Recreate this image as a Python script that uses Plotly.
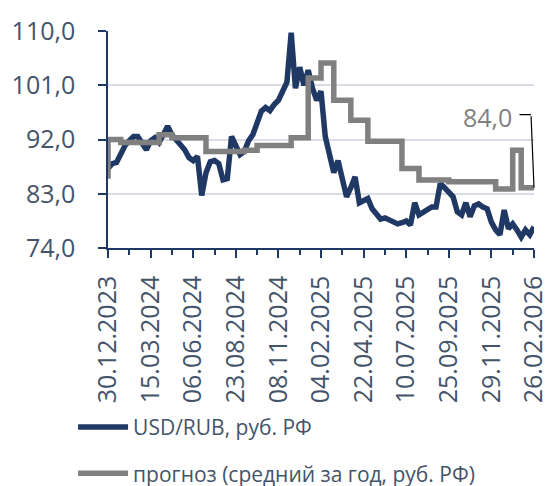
import plotly.graph_objects as go

tick_labels = ["30.12.2023", "15.03.2024", "06.06.2024", "23.08.2024", "08.11.2024",
               "04.02.2025", "22.04.2025", "10.07.2025", "25.09.2025", "29.11.2025",
               "26.02.2026"]

usd_rub = [
    87.2, 88.0, 88.2, 89.5, 91.0, 91.8, 92.5, 92.5, 91.5, 90.3,
    91.8, 92.3, 91.5, 93.0, 94.2, 92.8, 92.0, 91.3, 90.3, 89.0,
    88.5, 89.2, 82.7, 86.5, 88.3, 88.5, 88.0, 85.3, 85.5, 92.5,
    91.2, 89.5, 90.0, 91.8, 92.8, 95.0, 96.7, 97.3, 96.8, 97.8,
    98.5, 100.0, 101.5, 109.7, 100.5, 104.0, 101.0, 103.5, 100.5, 98.5,
    100.0, 92.5, 89.5, 86.5, 88.5, 85.0, 82.5, 84.0, 85.8, 81.5,
    81.8, 82.2, 80.5, 79.8, 78.8, 79.0, 78.6, 78.3, 78.0, 78.2,
    78.5, 77.8, 81.5, 79.5, 80.0, 80.5, 80.8, 80.8, 84.7, 84.0,
    83.2, 82.5, 80.0, 79.5, 81.5, 79.2, 81.0, 81.3, 80.8, 80.5,
    78.3, 77.0, 76.2, 80.3, 77.2, 78.0, 77.0, 75.8, 77.0, 76.2,
    77.5,
]

forecast = [
    85.5, 92.0, 92.0, 92.0, 91.5, 91.5, 91.5, 91.5, 91.5, 91.5,
    91.5, 91.5, 91.5, 92.8, 92.8, 92.8, 92.3, 92.3, 92.3, 92.3,
    92.3, 92.3, 92.3, 92.3, 90.0, 90.0, 90.0, 90.0, 90.0, 90.0,
    90.0, 90.0, 90.0, 90.2, 90.2, 90.2, 91.0, 91.0, 91.0, 91.0,
    91.0, 91.0, 91.0, 91.0, 92.3, 92.3, 92.3, 92.3, 102.2, 102.2,
    102.2, 104.7, 104.7, 104.7, 98.5, 98.5, 98.5, 98.5, 95.2, 95.2,
    95.2, 95.2, 91.7, 91.7, 91.7, 91.7, 91.7, 91.7, 91.7, 91.7,
    87.2, 87.2, 87.2, 87.2, 85.3, 85.3, 85.3, 85.3, 85.3, 85.3,
    85.3, 85.0, 85.0, 85.0, 85.0, 85.0, 85.0, 85.0, 85.0, 85.0,
    85.0, 85.0, 83.8, 83.8, 83.8, 83.8, 90.2, 90.2, 84.0, 84.0,
    84.0,
]

series_names = ["USD/RUB, руб. РФ", "прогноз (средний за год, руб. РФ)"]

TEXT = "#44546A"
NAVY = "#1F3864"
GREY = "#808080"
FONT = "Open Sans"

x_idx = list(range(len(usd_rub)))
major = list(range(0, len(usd_rub), 10))

fig = go.Figure()
fig.add_trace(go.Scatter(x=x_idx, y=usd_rub, mode="lines", name=series_names[0],
                         line=dict(color=NAVY, width=5.5), legend="legend"))
fig.add_trace(go.Scatter(x=x_idx, y=forecast, mode="lines", name=series_names[1],
                         line=dict(color=GREY, width=5.5, shape="vh"), legend="legend2"))

last_x = x_idx[-1]
last_y = forecast[-1]
label = f"{last_y:.1f}".replace(".", ",")
# leader line (two segments) and label
fig.add_annotation(x=last_x, y=last_y, xref="x", yref="y", text="", showarrow=True,
                   arrowhead=0, arrowwidth=1.2, arrowcolor="black", ax=-3, ay=-73)
fig.add_annotation(x=last_x, y=last_y, xref="x", yref="y", text="", showarrow=True,
                   arrowhead=0, arrowwidth=1.2, arrowcolor="black", ax=-13, ay=0,
                   xshift=-3, yshift=73)
fig.add_annotation(x=last_x, y=last_y, xref="x", yref="y", text=label, showarrow=False,
                   xshift=-47, yshift=71, font=dict(family=FONT, size=25, color=GREY))

legend_font = dict(family=FONT, size=21, color=TEXT)
fig.update_layout(
    width=552, height=486,
    margin=dict(l=100, r=26, t=23, b=246, autoexpand=False),
    paper_bgcolor="white", plot_bgcolor="white",
    separators=", ",
    font=dict(family=FONT, color=TEXT, size=22),
    legend=dict(x=-0.082, y=-0.826, xanchor="left", yanchor="middle", itemwidth=50,
                font=legend_font, bgcolor="rgba(0,0,0,0)"),
    legend2=dict(x=-0.082, y=-1.04, xanchor="left", yanchor="middle", itemwidth=50,
                 font=legend_font, bgcolor="rgba(0,0,0,0)"),
    showlegend=True,
)

fig.update_xaxes(
    range=[0, len(usd_rub) - 1], automargin=False,
    tickmode="array", tickvals=major, ticktext=tick_labels,
    tickangle=-90, ticks="outside", ticklen=8, tickwidth=1.5, tickcolor=NAVY,
    minor=dict(dtick=5, tick0=0, ticks="outside", ticklen=5, tickwidth=1.5, tickcolor=NAVY),
    showline=True, linecolor=NAVY, linewidth=1.5,
    showgrid=False, zeroline=False,
    tickfont=dict(family=FONT, size=25, color=TEXT),
    ticklabelstandoff=8,
)
fig.update_yaxes(
    range=[74, 110], tick0=74, dtick=9, tickformat=".1f", automargin=False,
    ticks="outside", ticklen=8, tickwidth=1.5, tickcolor=NAVY,
    showline=True, linecolor=NAVY, linewidth=1.5,
    showgrid=True, gridcolor="#D9DEE6", gridwidth=1.5, zeroline=False,
    tickfont=dict(family=FONT, size=25, color=TEXT),
    ticklabelstandoff=18,
)

fig.write_html("out.html")
